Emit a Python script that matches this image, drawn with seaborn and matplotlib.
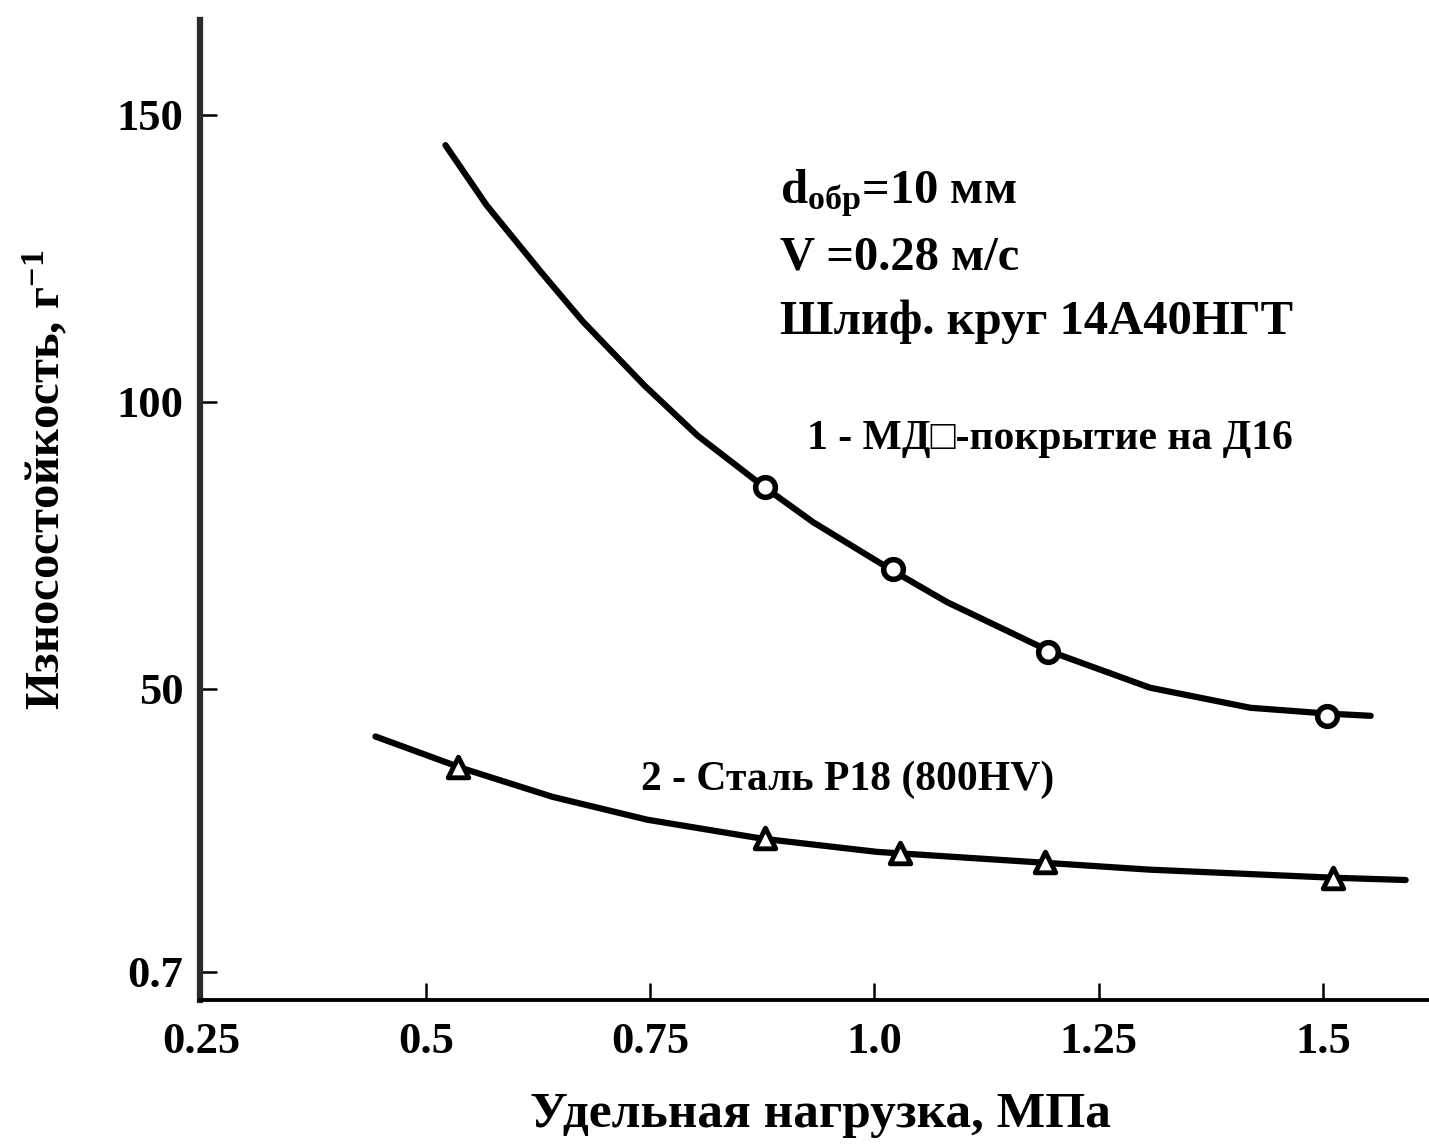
import numpy as np
import pandas as pd
import matplotlib
matplotlib.use("Agg")
import matplotlib.pyplot as plt
import seaborn as sns

# ---- data ----
x_ticks = [0.25, 0.5, 0.75, 1.0, 1.25, 1.5]
x_tick_labels = ["0.25", "0.5", "0.75", "1.0", "1.25", "1.5"]
y_ticks = [0.7, 50, 100, 150]
y_tick_labels = ["0.7", "50", "100", "150"]

# curve 1 (MDO coating) – trend line
curve1_x = [0.522, 0.568, 0.628, 0.675, 0.744, 0.803, 0.876, 0.932, 1.018, 1.081, 1.196, 1.307, 1.419, 1.504, 1.553]
curve1_y = [144.7, 134.2, 122.7, 114.0, 102.8, 94.1, 85.3, 79.0, 70.8, 65.1, 56.5, 50.2, 46.7, 45.7, 45.3]
# measured points (circles)
points1_x = [0.878, 1.021, 1.193, 1.504]
points1_y = [85.2, 70.8, 56.5, 45.3]

# curve 2 (steel R18) – trend line
curve2_x = [0.444, 0.542, 0.641, 0.747, 0.875, 1.003, 1.190, 1.307, 1.511, 1.592]
curve2_y = [41.7, 36.1, 31.2, 27.2, 23.9, 21.6, 19.7, 18.5, 17.1, 16.7]
# measured points (triangles)
points2_x = [0.536, 0.878, 1.029, 1.190, 1.511]
points2_y = [36.3, 24.0, 21.4, 19.9, 17.1]

label1 = "1 - МД\u25a1-покрытие на Д16"
label2 = "2 - Сталь Р18 (800HV)"
info_lines = ["d$_{\\mathbf{обр}}$=10 мм", "V =0.28 м/с", "Шлиф. круг 14А40НГТ"]
xlabel = "Удельная нагрузка, МПа"
ylabel = "Износостойкость, г$^{\\mathbf{-1}}$"

# ---- style ----
sns.set_style("ticks")
serif = ["Liberation Serif", "DejaVu Serif"]
plt.rcParams["font.family"] = serif
plt.rcParams["text.color"] = "black"
plt.rcParams["axes.labelcolor"] = "black"
plt.rcParams["mathtext.fontset"] = "custom"
plt.rcParams["mathtext.rm"] = "Liberation Serif"
plt.rcParams["mathtext.it"] = "Liberation Serif:italic"
plt.rcParams["mathtext.bf"] = "Liberation Serif:bold"
plt.rcParams["mathtext.default"] = "bf"

W, H = 1429, 1148
fig = plt.figure(figsize=(W / 100, H / 100), dpi=100)
ax = fig.add_axes([200 / W, 1 - 1000 / H, 1229 / W, 980 / H])

df1 = pd.DataFrame({"x": curve1_x, "y": curve1_y})
df2 = pd.DataFrame({"x": curve2_x, "y": curve2_y})
p1 = pd.DataFrame({"x": points1_x, "y": points1_y})
p2 = pd.DataFrame({"x": points2_x, "y": points2_y})

lw = 4.5
sns.lineplot(data=df1, x="x", y="y", ax=ax, color="black", linewidth=lw, sort=True)
sns.lineplot(data=df2, x="x", y="y", ax=ax, color="black", linewidth=lw, sort=True)
sns.scatterplot(data=p1, x="x", y="y", ax=ax, marker="o", s=200, facecolor="white",
                edgecolor="black", linewidth=4, zorder=5)
sns.scatterplot(data=p2, x="x", y="y", ax=ax, marker="^", s=220, facecolor="white",
                edgecolor="black", linewidth=3.5, zorder=5)

ax.set_xlim(0.2485, 1.618)
ax.set_ylim(-4.2, 166.5)
ax.set_xticks(x_ticks)
ax.set_xticklabels(x_tick_labels)
ax.set_yticks(y_ticks)
ax.set_yticklabels(y_tick_labels)

for s in ["top", "right"]:
    ax.spines[s].set_visible(False)
ax.spines["left"].set_linewidth(4.5)
ax.spines["left"].set_color("#2a2a2a")
ax.spines["bottom"].set_linewidth(2.8)
ax.spines["bottom"].set_color("black")

ax.tick_params(axis="both", direction="in", length=12, width=1.8, colors="black",
               labelsize=32)
ax.tick_params(axis="x", pad=16)
ax.tick_params(axis="y", pad=12)
for lab in ax.get_xticklabels() + ax.get_yticklabels():
    lab.set_fontweight("bold")

ax.set_xlabel(xlabel, fontsize=37, fontweight="bold")
ax.set_ylabel(ylabel, fontsize=35, fontweight="bold")
ax.xaxis.set_label_coords((820 - 200) / 1229, (1000 - 1092) / 980)
ax.yaxis.set_label_coords((70 - 200) / 1229, (1000 - 480) / 980)

# info text block
ys = [193, 258, 322]
for t, yp in zip(info_lines, ys):
    fig.text(780 / W, 1 - yp / H, t, fontsize=35, fontweight="bold", va="center", ha="left")

ax.text(0.5 + (1050 - 425.7) / 897.3, 75.2 - (440 - 545) / 5.728, label1,
        fontsize=30, fontweight="bold", ha="center", va="center")
ax.text(0.5 + (848 - 425.7) / 897.3, 75.2 - (780 - 545) / 5.728, label2,
        fontsize=30, fontweight="bold", ha="center", va="center")

fig.savefig("out.png", dpi=100, facecolor="white")
